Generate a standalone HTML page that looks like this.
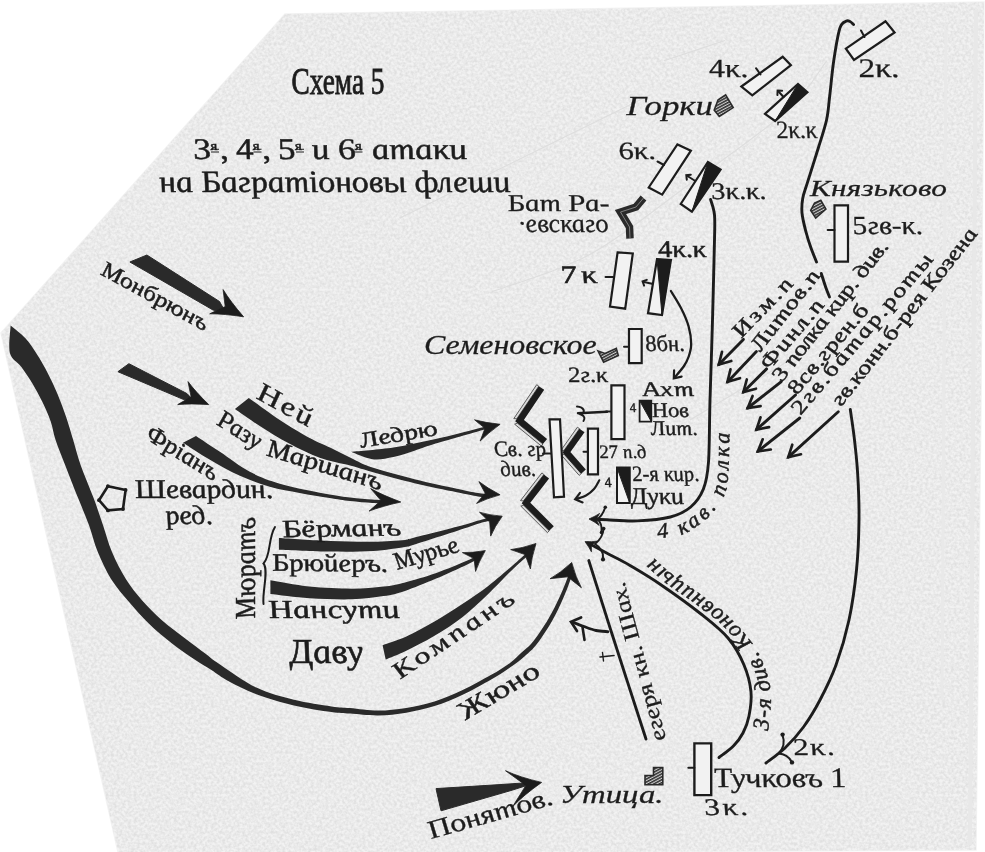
<!DOCTYPE html>
<html lang="ru"><head><meta charset="utf-8"><title>Схема 5</title>
<style>
html,body{margin:0;padding:0;background:#fff;overflow:hidden}
svg{display:block}
text{font-family:"Liberation Serif","DejaVu Serif",serif;fill:#1e1e1e}
</style></head><body>
<svg width="985" height="852" viewBox="0 0 985 852">
<defs>
<filter id="grain" x="0" y="0" width="100%" height="100%" color-interpolation-filters="sRGB">
<feTurbulence type="fractalNoise" baseFrequency="0.35" numOctaves="2" seed="7" result="n"/>
<feColorMatrix type="matrix" values="0 0 0 0 0  0 0 0 0 0  0 0 0 0 0  2 0 0 0 -0.57"/>
<feComposite in2="SourceGraphic" operator="in"/>
</filter>
<pattern id="hatch" width="2.6" height="2.6" patternUnits="userSpaceOnUse" patternTransform="rotate(62)"><rect width="2.6" height="2.6" fill="#cfcfcf"/><rect width="1.5" height="2.6" fill="#2e2e2e"/></pattern>
<filter id="soft" x="-2%" y="-2%" width="104%" height="104%"><feGaussianBlur stdDeviation="0.45"/></filter>
</defs>
<polygon points="285,14 984,2 981,400 976,850 600,852 118,852 1,333" fill="#f2f2f2" stroke="none" stroke-width="0" stroke-linejoin="miter" />
<polygon points="285,14 984,2 981,400 976,850 600,852 118,852 1,333" fill="none" stroke="#f3f3f3" stroke-width="1.5" stroke-linejoin="miter" />
<polygon points="285,14 984,2 981,400 976,850 600,852 118,852 1,333" fill="#000" opacity="0.07" filter="url(#grain)"/>
<g filter="url(#soft)">
<path d="M400,218C441.7,197.5 608.3,115.5 650,95" fill="none" stroke="#dedede" stroke-width="1.2"/>
<path d="M491.7,291.7C503.1,287.8 540.6,276 560,268C579.4,260 587.2,256.9 608,243.5C628.8,230.1 654.9,209.7 684.6,187.7C714.3,165.7 762.3,132.7 786,111.5C809.7,90.3 819.9,69.2 826.7,60.8" fill="none" stroke="#dedede" stroke-width="1.2"/>
<path d="M664,60.8C674.2,57.4 714.8,43.9 725,40.5" fill="none" stroke="#dedede" stroke-width="1.2"/>
<path d="M690,420C706.7,410 773.3,370 790,360" fill="none" stroke="#dedede" stroke-width="1.2"/>
<line x1="946" y1="30" x2="942" y2="700" stroke="#e9e9e9" stroke-width="3"/>
<line x1="976" y1="10" x2="970" y2="845" stroke="#e8e8e8" stroke-width="4"/>
<path d="M10.6,325.6C13.1,327.7 21.1,333.6 25.4,338.3C29.7,343 32.9,347.9 36.6,353.8C40.4,359.7 44.4,366.7 47.9,373.5C51.4,380.3 54.7,387.3 57.7,394.6C60.8,401.9 63.6,409.6 66.2,417.2C68.8,424.8 70.8,432 73.2,440C75.6,448 77.3,455.6 80.7,465.2C84.1,474.8 89.7,487.5 93.4,497.6C97.2,507.7 100.1,516.7 103.2,525.8C106.3,534.9 108.2,543.1 112,552C115.8,560.9 120.9,571.2 126,579.3C131.1,587.4 136.4,593.9 142.4,600.7C148.4,607.6 155.1,614.1 162.2,620.4C169.3,626.7 178.1,632.9 185.2,638.4C192.3,643.9 199.1,648.9 204.9,653.2C210.7,657.6 211.4,658.8 220,664.5C228.6,670.2 244,681.7 256.3,687.6C268.6,693.5 281.4,696.7 293.9,699.8C306.4,702.9 322.1,705 331.5,706.4C340.9,707.8 342.2,707.3 350,708C357.8,708.7 368.8,710.6 378.2,710.6C387.6,710.6 396.9,709.5 406.3,708C415.7,706.5 425.1,704.4 434.5,701.4C443.9,698.4 453.3,694.5 462.7,690.1C472.1,685.7 482.9,679.6 490.8,675.1C498.7,670.6 504.9,666.6 510,662.9C515.1,659.2 517.4,656.4 521.3,652.8C525.2,649.2 528.8,646.9 533.3,641.3C537.8,635.7 543.9,626.5 548.3,619C552.7,611.6 556.5,603.6 559.7,596.8C562.8,590 565.6,582.9 567.3,578.2C569,573.6 569.3,570.3 569.7,568.7L572.7,569.3C572.3,571 572.1,574.5 570.5,579.4C568.9,584.2 566.2,591.4 563.1,598.4C560,605.4 556.3,613.5 551.9,621.2C547.5,628.8 541.4,638.3 536.9,644.1C532.4,650 529.2,652.3 524.7,656.2C520.2,660.1 515.6,663.7 510,667.6C504.4,671.5 498.7,675.3 490.8,679.8C482.9,684.3 472.1,690.4 462.7,694.8C453.3,699.2 443.9,703.1 434.5,706.1C425.1,709.1 415.7,711.1 406.3,712.7C396.9,714.3 387.6,715.4 378.2,715.5C368.8,715.6 357.8,714.2 350,713.6C342.2,713 340.9,713.4 331.5,712C322.1,710.6 306.4,708.4 293.9,705.4C281.4,702.4 267.2,698.3 256.3,694.2C245.4,690.1 235.7,685 228.2,681C220.7,677 216.9,673.5 211.4,670C205.9,666.5 201.6,664.2 195,659.8C188.4,655.4 179.7,649.4 172,643.4C164.3,637.4 156.1,630.6 149,623.7C141.9,616.9 135.6,609.7 129.3,602.3C123,594.9 116.5,587.7 111.2,579.3C106,570.9 101.5,560.9 97.8,552C94.1,543.1 92.5,534.9 89.2,525.8C85.9,516.7 81.9,507.7 77.9,497.6C73.9,487.5 68.9,474.8 65.2,465.2C61.5,455.6 58,447.3 55.6,440C53.2,432.7 52.9,427.8 50.7,421.4C48.5,415 45.3,408 42.3,401.7C39.2,395.4 35.9,389.3 32.4,383.4C28.8,377.5 24.8,371.6 21,366.5C17.2,361.4 11.6,359.8 9.9,353C8.2,346.2 10.5,330.2 10.6,325.6Z" fill="#2a2a2a"/>
<path d="M571.7,562.5 Q575.8,577.7 581.4,587.7 L567.6,576.8 L550.1,578.7 Q560.2,573.2 571.7,562.5 Z" fill="#1e1e1e" stroke="#1e1e1e" stroke-width="0.8" stroke-linejoin="round"/>
<polygon points="146.9,255 129.9,262 213,310 226,313 219.5,301.5" fill="#2a2a2a" stroke="#2a2a2a" stroke-width="1" stroke-linejoin="miter" />
<path d="M243.6,316.8 Q223.7,313.7 209.7,313.8 L225.2,306.6 L223.1,289.6 Q230.4,301.6 243.6,316.8 Z" fill="#1e1e1e" stroke="#1e1e1e" stroke-width="0.8" stroke-linejoin="round"/>
<polygon points="128.9,363.7 117.9,371.7 183.8,399.6 195,402 187,393.6" fill="#2a2a2a" stroke="#2a2a2a" stroke-width="1" stroke-linejoin="miter" />
<path d="M208.7,404.6 Q190.4,403.3 177.7,404.6 L191.1,396.8 L188,381.6 Q195.5,391.8 208.7,404.6 Z" fill="#1e1e1e" stroke="#1e1e1e" stroke-width="0.8" stroke-linejoin="round"/>
<path d="M248.8,398C254,401.6 269.7,413.2 279.8,419.9C289.9,426.5 301.3,433.3 309.7,437.9C318.1,442.5 323.1,444.1 330,447.5C336.9,450.9 343.9,454.6 351,458C358.1,461.4 361.7,464.1 372.3,467.6C382.9,471.1 400.4,475.7 414.5,479.2C428.6,482.7 446.2,486.4 456.8,488.7C467.4,491 472.7,492.1 477.9,493C483.1,493.9 486.3,494 488,494.2L488,497.4C486.3,497.2 483.1,497.3 477.9,496.4C472.7,495.5 467.4,494.4 456.8,492.2C446.2,490 428.6,486.6 414.5,483.2C400.4,479.8 382.9,474.9 372.3,472C361.7,469.1 359.8,468.2 351,465.8C342.2,463.4 329.9,461.5 319.7,457.8C309.5,454.1 299.7,449.1 289.7,443.8C279.7,438.5 268.9,431.7 259.8,425.9C250.7,420.1 239.1,411.7 234.9,408.9Z" fill="#2a2a2a"/>
<path d="M500.1,494.8 Q485.9,498.8 476.6,503.4 L485.2,493.2 L478.9,481.6 Q487,487.9 500.1,494.8 Z" fill="#1e1e1e" stroke="#1e1e1e" stroke-width="0.8" stroke-linejoin="round"/>
<path d="M196,435.9C200,438.5 210.9,445.8 219.9,451.8C228.9,457.8 239.8,466.5 249.8,471.8C259.8,477.1 268.2,480.2 279.8,483.7C291.4,487.2 308,490.4 319.7,492.7C331.4,495 341.2,496.4 350,497.5C358.8,498.6 366,499.1 372.3,499.6C378.6,500.1 385.4,500.4 388,500.6L388,504C385.4,503.8 378.6,503.5 372.3,503C366,502.5 357.1,501.9 350,501C342.9,500.1 338,499.2 329.6,497.9C321.2,496.5 309.7,494.8 299.7,492.9C289.7,491 279.8,489.5 269.8,486.7C259.8,483.9 249.9,480.3 239.9,475.8C229.9,471.3 219.4,465.3 209.9,459.8C200.4,454.3 187.5,445.6 183,442.8Z" fill="#2a2a2a"/>
<path d="M400.8,502 Q381.6,506.3 369.1,511.1 L381,500.6 L370.7,488.6 Q382.4,495.1 400.8,502 Z" fill="#1e1e1e" stroke="#1e1e1e" stroke-width="0.8" stroke-linejoin="round"/>
<path d="M351.1,451.8C358.2,451.1 379.3,449.6 393.4,447.5C407.5,445.4 421.5,442.3 435.6,439.1C449.7,435.9 469.2,430.7 477.9,428.5C486.6,426.3 486.3,426.4 488,426L488,428.8C486.3,429.2 486.6,428.9 477.9,431.4C469.2,433.9 446.2,440.4 435.6,443.6C425,446.8 421.5,448.5 414.5,450.7C407.5,452.9 400.4,455.6 393.4,457C386.4,458.4 379.4,460.1 372.3,459.2C365.2,458.3 354.6,453 351.1,451.8Z" fill="#2a2a2a"/>
<path d="M500.1,424.3 Q487.6,433.3 480.2,441 L485,428.3 L474.5,419.8 Q484.8,422.7 500.1,424.3 Z" fill="#1e1e1e" stroke="#1e1e1e" stroke-width="0.8" stroke-linejoin="round"/>
<path d="M278.9,538C287.5,538.5 314.9,540.4 330.6,541C346.3,541.6 360.5,542 372.9,541.8C385.3,541.6 398.1,540.7 405,540C411.9,539.3 405.9,539.8 414.5,537.6C423.1,535.4 445.5,529.8 456.8,526.8C468.1,523.8 476.2,520.9 482.1,519.4C488,517.9 490.4,517.8 492,517.5L492,520.4C490.4,520.8 488,520.8 482.1,522.6C476.2,524.4 468.1,527.4 456.8,531C445.5,534.6 423.1,541.8 414.5,544.5C405.9,547.2 411.9,545.9 405,547C398.1,548.1 385.3,550.2 372.9,551C360.5,551.8 346.3,551.8 330.6,551.6C314.9,551.4 287.5,550 278.9,549.7Z" fill="#2a2a2a"/>
<path d="M502.2,516.2 Q494.4,527.1 490.7,536.1 L489.7,522 L479.5,512.2 Q488.8,515.2 502.2,516.2 Z" fill="#1e1e1e" stroke="#1e1e1e" stroke-width="0.8" stroke-linejoin="round"/>
<path d="M270.4,580.3C276.9,581.3 295.9,585.2 309.5,586.6C323.1,588 339.5,588.7 351.8,588.7C364.1,588.7 374.6,587.7 383.5,586.6C392.4,585.5 396.3,584.6 405,582.4C413.7,580.2 425.2,576.9 435.6,573.3C446,569.7 460.2,563.6 467.3,560.6C474.4,557.6 476.2,555.9 478,555L479,558.2C477.1,559.2 474.5,561 467.3,564.4C460.1,567.8 446,574.4 435.6,578.8C425.2,583.2 413.7,588 405,590.9C396.3,593.8 392.4,594.7 383.5,596.1C374.6,597.5 364.1,598.9 351.8,599.3C339.5,599.6 323.1,599.1 309.5,598.2C295.9,597.3 276.9,594.7 270.4,594Z" fill="#2a2a2a"/>
<path d="M485.3,550.6 Q478.6,562.3 475.6,571.4 L474,558.5 L462.4,552.6 Q472,552.9 485.3,550.6 Z" fill="#1e1e1e" stroke="#1e1e1e" stroke-width="0.8" stroke-linejoin="round"/>
<path d="M382.6,645.3C386.6,643.8 397.7,640.5 406.3,636.6C414.9,632.7 425.1,627.1 434.5,621.6C443.9,616.1 453.8,609.7 462.7,603.8C471.6,597.9 479.9,592.4 488.2,586C496.5,579.6 506.3,570.9 512.6,565.5C518.9,560.1 523.8,555.5 526,553.5L527.5,556C525,558.2 519.1,563.2 512.6,569.5C506.1,575.8 496.5,586.1 488.2,594C479.9,601.9 471.6,609.9 462.7,616.9C453.8,623.9 443.9,630.1 434.5,635.7C425.1,641.3 414.4,646.7 406.3,650.7C398.2,654.7 389.1,658 385.7,659.5Z" fill="#2a2a2a"/>
<path d="M536,543.5 Q531.4,558.1 530.4,568.9 L525.1,554.6 L510.7,549.6 Q521.5,548.4 536,543.5 Z" fill="#1e1e1e" stroke="#1e1e1e" stroke-width="0.8" stroke-linejoin="round"/>
<polygon points="436,788.6 441,810.8 511,790.5 530,784.5 530,782.5 500,784.6" fill="#2a2a2a" stroke="#2a2a2a" stroke-width="1" stroke-linejoin="miter" />
<path d="M541.6,782.4 Q523.3,795.3 512.5,806.8 L525.9,785.4 L505.5,770.7 Q519.8,777.3 541.6,782.4 Z" fill="#1e1e1e" stroke="#1e1e1e" stroke-width="0.8" stroke-linejoin="round"/>
<polygon points="99,500.2 107.9,486.2 125.6,490 123,509 107.9,510.4" fill="none" stroke="#1e1e1e" stroke-width="2.6" stroke-linejoin="miter" />
<circle cx="99" cy="500.2" r="1.9" fill="#1e1e1e"/>
<circle cx="107.9" cy="486.2" r="1.9" fill="#1e1e1e"/>
<circle cx="125.6" cy="490" r="1.9" fill="#1e1e1e"/>
<circle cx="123" cy="509" r="1.9" fill="#1e1e1e"/>
<circle cx="107.9" cy="510.4" r="1.9" fill="#1e1e1e"/>
<path d="M275,527 C268,538 271,556 263.5,563.5 C269,570 262,592 263.5,604" fill="none" stroke="#1e1e1e" stroke-width="2" stroke-linecap="round"/>
<polygon points="516.8,418.8 538.8,386.2 536.7,384.7 513.8,418.6" fill="#d9d9d9" stroke="#3a3a3a" stroke-width="0.8" stroke-linejoin="miter" />
<polygon points="517.4,423.1 542.9,444 541.3,446 514.6,424.2" fill="#d9d9d9" stroke="#3a3a3a" stroke-width="0.8" stroke-linejoin="miter" />
<polyline points="541.5,388 519.5,420.6 545,441.5" fill="none" stroke="#1e1e1e" stroke-width="6.5" stroke-linejoin="miter" stroke-miterlimit="6"/>
<polygon points="523.4,501 543.9,474.5 541.9,472.9 520.5,500.6" fill="#d9d9d9" stroke="#3a3a3a" stroke-width="0.8" stroke-linejoin="miter" />
<polygon points="523.7,505.3 549.2,530.8 547.4,532.6 520.8,506.1" fill="#d9d9d9" stroke="#3a3a3a" stroke-width="0.8" stroke-linejoin="miter" />
<polyline points="546.5,476.5 526,503 551.5,528.5" fill="none" stroke="#1e1e1e" stroke-width="6.5" stroke-linejoin="miter" stroke-miterlimit="6"/>
<polygon points="564,450.5 579.5,428.7 577.4,427.2 561,450.2" fill="#d9d9d9" stroke="#3a3a3a" stroke-width="0.8" stroke-linejoin="miter" />
<polygon points="564.2,454.3 581.2,473.6 579.2,475.4 561.2,454.9" fill="#d9d9d9" stroke="#3a3a3a" stroke-width="0.8" stroke-linejoin="miter" />
<polyline points="582,430.5 566.5,452.3 583.5,471.6" fill="none" stroke="#1e1e1e" stroke-width="6.2" stroke-linejoin="miter" stroke-miterlimit="6"/>
<polygon points="549.5,419.3 560,419.3 564,496.7 554,497.3" fill="#f2f2f2" stroke="#1e1e1e" stroke-width="2.2" stroke-linejoin="miter" />
<line x1="543" y1="453.6" x2="551" y2="453.6" stroke="#1e1e1e" stroke-width="2" stroke-linecap="round"/>
<polygon points="587.9,428.7 598,428.7 598,474.4 587.9,474.4" fill="#f2f2f2" stroke="#1e1e1e" stroke-width="2.2" stroke-linejoin="miter" />
<line x1="583.5" y1="451.8" x2="588" y2="451.8" stroke="#1e1e1e" stroke-width="2" stroke-linecap="round"/>
<polygon points="611.4,385.3 624.5,385.3 624.5,439.2 611.4,439.2" fill="#f2f2f2" stroke="#1e1e1e" stroke-width="2.2" stroke-linejoin="miter" />
<line x1="606" y1="411.5" x2="611" y2="411.5" stroke="#1e1e1e" stroke-width="2" stroke-linecap="round"/>
<path d="M607,411.7 L578,413.2" fill="none" stroke="#1e1e1e" stroke-width="2.4" stroke-linecap="round"/>
<path d="M577,406.5 C584,407 586,412 581,414.5 C585,416 585,419 583.5,421" fill="none" stroke="#1e1e1e" stroke-width="2" stroke-linecap="round"/>
<polygon points="629,329 641.7,329 641.7,363.2 629,363.2" fill="#f2f2f2" stroke="#1e1e1e" stroke-width="2.2" stroke-linejoin="miter" />
<line x1="624" y1="346.8" x2="629" y2="346.8" stroke="#1e1e1e" stroke-width="2" stroke-linecap="round"/>
<polygon points="617.6,252.3 632.8,253.4 625.2,308.7 610,306.6" fill="#f2f2f2" stroke="#1e1e1e" stroke-width="2.2" stroke-linejoin="miter" />
<line x1="605.5" y1="277" x2="613" y2="277" stroke="#1e1e1e" stroke-width="2" stroke-linecap="round"/>
<polygon points="657,259.2 670.9,260 662,315 648,313.2" fill="#f2f2f2" stroke="#1e1e1e" stroke-width="2.2" stroke-linejoin="miter" />
<polygon points="657,259.2 670.9,260 662,315" fill="#1e1e1e" stroke="#1e1e1e" stroke-width="1" stroke-linejoin="miter" />
<line x1="644" y1="282" x2="652" y2="283.8" stroke="#1e1e1e" stroke-width="2" stroke-linecap="round"/>
<path d="M646.8,279.9 L642.6,281.4 L644.1,285.6" fill="none" stroke="#1e1e1e" stroke-width="2" stroke-linecap="round" stroke-linejoin="miter"/>
<polygon points="648.7,187.5 677.4,144.4 690.9,150.7 662.2,194.6" fill="#f2f2f2" stroke="#1e1e1e" stroke-width="2.2" stroke-linejoin="miter" />
<line x1="657.5" y1="161.5" x2="664" y2="165" stroke="#1e1e1e" stroke-width="2" stroke-linecap="round"/>
<polygon points="680.7,204 707.9,162 720.6,169.7 691.9,211.6" fill="#f2f2f2" stroke="#1e1e1e" stroke-width="2.2" stroke-linejoin="miter" />
<polygon points="707.9,162 720.6,169.7 691.9,211.6" fill="#1e1e1e" stroke="#1e1e1e" stroke-width="1" stroke-linejoin="miter" />
<line x1="687.5" y1="176" x2="694.5" y2="180.5" stroke="#1e1e1e" stroke-width="2" stroke-linecap="round"/>
<path d="M690.8,174.7 L686.3,175.2 L686.8,179.7" fill="none" stroke="#1e1e1e" stroke-width="2" stroke-linecap="round" stroke-linejoin="miter"/>
<polygon points="741.4,86.5 782.7,56.8 790.9,65.2 752.3,95.4" fill="#f2f2f2" stroke="#1e1e1e" stroke-width="2.2" stroke-linejoin="miter" />
<line x1="756" y1="68.2" x2="760.5" y2="74.5" stroke="#1e1e1e" stroke-width="2" stroke-linecap="round"/>
<polygon points="765,113.9 798,84 807.4,92.3 775.1,121" fill="#f2f2f2" stroke="#1e1e1e" stroke-width="2.2" stroke-linejoin="miter" />
<polygon points="798,84 807.4,92.3 775.1,121" fill="#1e1e1e" stroke="#1e1e1e" stroke-width="1" stroke-linejoin="miter" />
<line x1="778.5" y1="91.5" x2="783.5" y2="97" stroke="#1e1e1e" stroke-width="2" stroke-linecap="round"/>
<path d="M782.1,90.8 L777.6,90.6 L777.4,95.1" fill="none" stroke="#1e1e1e" stroke-width="2" stroke-linecap="round" stroke-linejoin="miter"/>
<polygon points="845.9,48.7 885.5,21.3 894.6,32.5 854,59.9" fill="#f2f2f2" stroke="#1e1e1e" stroke-width="2.2" stroke-linejoin="miter" />
<line x1="861" y1="30.5" x2="864.5" y2="37" stroke="#1e1e1e" stroke-width="2" stroke-linecap="round"/>
<polygon points="834.5,205.3 848,205.3 848,261.7 834.5,261.7" fill="#f2f2f2" stroke="#1e1e1e" stroke-width="2.2" stroke-linejoin="miter" />
<line x1="827.6" y1="230" x2="834.5" y2="230" stroke="#1e1e1e" stroke-width="2" stroke-linecap="round"/>
<polygon points="639.6,400.6 651.3,400.6 651.3,421.6 639.6,421.6" fill="#f2f2f2" stroke="#1e1e1e" stroke-width="1.8" stroke-linejoin="miter" />
<polygon points="639.6,400.6 651.3,400.6 651.3,421.6" fill="#1e1e1e" stroke="#1e1e1e" stroke-width="1" stroke-linejoin="miter" />
<polygon points="617,467.6 629.7,467.6 629.7,503 617,503" fill="#f2f2f2" stroke="#1e1e1e" stroke-width="2" stroke-linejoin="miter" />
<polygon points="617,467.6 629.7,467.6 629.7,503" fill="#1e1e1e" stroke="#1e1e1e" stroke-width="1" stroke-linejoin="miter" />
<polygon points="694.4,743.4 711.2,743.4 711.2,795.1 694.4,795.1" fill="#f2f2f2" stroke="#1e1e1e" stroke-width="2.4" stroke-linejoin="miter" />
<line x1="688.3" y1="767.7" x2="694.4" y2="767.7" stroke="#1e1e1e" stroke-width="2" stroke-linecap="round"/>
<text font-size="13" font-style="italic" transform="translate(630.5 411.5) skewX(13)" stroke="#1e1e1e" stroke-width="0.4" >4</text>
<text font-size="14" font-style="italic" transform="translate(605.5 487) skewX(13)" stroke="#1e1e1e" stroke-width="0.4" >4</text>
<polygon points="718,100 725.6,94.9 733.2,107.6 719.3,116.4 714.2,110" fill="url(#hatch)" stroke="#2c2c2c" stroke-width="1.6" stroke-linejoin="miter" />
<polygon points="810.7,210.4 814.5,203 820.8,200.2 825.9,209 815.7,218" fill="url(#hatch)" stroke="#2c2c2c" stroke-width="1.6" stroke-linejoin="miter" />
<polygon points="598,351 605,353.5 616.3,348.4 618.3,355.6 603.6,362.2" fill="url(#hatch)" stroke="#2c2c2c" stroke-width="1.6" stroke-linejoin="miter" />
<polygon points="645,775.5 653.5,775.5 653.5,767.5 662.8,767.5 662.8,784.8 645,784.8" fill="url(#hatch)" stroke="#2c2c2c" stroke-width="1.6" stroke-linejoin="miter" />
<path d="M643.5,198 L636,207 L620.5,212 L629.5,227 L630,238.5" fill="none" stroke="#2a2a2a" stroke-width="7.5" stroke-linejoin="miter"/>
<path d="M643.5,198 L636,207 L620.5,212 L629.5,227 L630,238.5" fill="none" stroke="#8a8a8a" stroke-width="0.9" stroke-linejoin="miter"/>
<path d="M710.6,199.5C711.2,202.1 713.9,208.2 714.5,215C715.1,221.8 714.8,222.5 714.5,240C714.2,257.5 713.2,293.3 712.5,320C711.8,346.7 710.7,376.3 710,400C709.3,423.7 709.6,447.2 708.5,462C707.4,476.8 706.4,481.5 703.4,489C700.4,496.5 696.2,502.3 690.7,507C685.2,511.7 679.3,514.7 670.4,517C661.5,519.3 648,520.4 637.4,520.9C626.8,521.4 614.2,520.1 607,519.8C599.8,519.5 596.2,519.4 594,519.3" fill="none" stroke="#1e1e1e" stroke-width="2.9" stroke-linecap="round" stroke-linejoin="round" />
<path d="M589,519 Q595.5,516.2 599.6,513.4 L596.2,519.3 L599.2,525.4 Q595.3,522.2 589,519 Z" fill="#1e1e1e" stroke="#1e1e1e" stroke-width="0.8" stroke-linejoin="round"/>
<path d="M605,508 C603,514 601,517 597,519 C601,522 602,527 601.5,532" fill="none" stroke="#1e1e1e" stroke-width="2" stroke-linecap="round"/>
<circle cx="605.3" cy="507.3" r="1.8" fill="#1e1e1e"/><circle cx="601.5" cy="532.5" r="1.8" fill="#1e1e1e"/>
<path d="M853.5,24.5C852.9,24 851.2,22 850,21.5C848.8,21 847.7,20.2 846,21.3C844.3,22.4 841.8,21.8 839.8,28.4C837.8,35 835.4,49.7 833.7,61C832,72.3 830.9,86.2 829.7,96C828.5,105.8 828.5,111.1 826.6,119.8C824.7,128.5 821.5,137.6 818.3,148C815.1,158.4 810.1,174.1 807.5,182.4C804.9,190.7 803.7,192.9 802.8,198C801.9,203.1 801.5,207.3 802,213C802.5,218.7 804.5,226.2 806,232C807.5,237.8 809.2,243 811,248C812.8,253 815.6,259.7 816.5,262" fill="none" stroke="#1e1e1e" stroke-width="2.9" stroke-linecap="round" stroke-linejoin="round" />
<path d="M821.3,273.5C822.1,275.9 824.6,284.1 826,288C827.4,291.9 828.9,295.5 829.5,297" fill="none" stroke="#1e1e1e" stroke-width="2.9" stroke-linecap="round" stroke-linejoin="round" />
<path d="M850.3,409.5C851,414.6 853.3,429.2 854.5,440C855.7,450.8 857,461.2 857.7,474.5C858.5,487.8 859.2,504.1 859,520C858.8,535.9 858.2,553.3 856.5,570C854.8,586.7 852.4,604.2 849,620C845.6,635.8 840.8,651.7 836,665C831.2,678.3 825.4,689.7 820,700C814.6,710.3 809.3,719 803.5,727C797.7,735 791.2,742 785,748C778.8,754 769.2,760.5 766,763" fill="none" stroke="#1e1e1e" stroke-width="2.9" stroke-linecap="round" stroke-linejoin="round" />
<path d="M782.5,735 C785,742 784,748 778.5,753.5 C784,754 789,757 791.5,761.5" fill="none" stroke="#1e1e1e" stroke-width="2" stroke-linecap="round"/>
<circle cx="782.6" cy="734.6" r="2.2" fill="#1e1e1e"/><circle cx="792" cy="762.4" r="2.2" fill="#1e1e1e"/>
<path d="M670.9,291C672.6,293.8 678,302.1 681,308C684,313.9 686.9,320.4 688.6,326.4C690.3,332.4 691.2,339.1 691.2,344.2C691.2,349.3 689.7,353.4 688.5,357C687.3,360.6 686.2,362.7 684,366C681.8,369.3 676.5,375.2 675,377" fill="none" stroke="#1e1e1e" stroke-width="2.3" stroke-linecap="round" stroke-linejoin="round" />
<path d="M674.1,370.3 L673.8,378.3 L681.6,376.6" fill="none" stroke="#1e1e1e" stroke-width="2.2" stroke-linecap="round" stroke-linejoin="miter"/>
<path d="M599.3,480.3C598.4,481.8 596.2,486.5 594,489C591.8,491.5 588.8,493.9 586,495.5C583.2,497.1 578.5,498.2 577,498.8" fill="none" stroke="#1e1e1e" stroke-width="2.2" stroke-linecap="round" stroke-linejoin="round" />
<path d="M580,492.9 L575.2,499.3 L582.6,502.4" fill="none" stroke="#1e1e1e" stroke-width="2.2" stroke-linecap="round" stroke-linejoin="miter"/>
<path d="M588,543C591.1,544.7 599.6,549.2 606.6,553C613.6,556.8 621,560.2 630,565.5C639,570.8 648.7,576.4 660.5,584.5C672.3,592.6 689.8,605.1 701,614C712.2,622.9 720.8,629.5 728,638C735.2,646.5 740.2,656 744,665C747.8,674 750.2,683.5 751,692C751.8,700.5 750.3,709.2 749,716C747.7,722.8 745.6,728 743,733C740.4,738 737.4,741.9 733.4,746C729.4,750.1 721.4,755.6 719,757.5" fill="none" stroke="#1e1e1e" stroke-width="2.9" stroke-linecap="round" stroke-linejoin="round" />
<path d="M585,541.6 Q592.1,542 597,541.2 L591.4,545 L591.4,551.8 Q589.2,547.3 585,541.6 Z" fill="#1e1e1e" stroke="#1e1e1e" stroke-width="0.8" stroke-linejoin="round"/>
<path d="M603.5,529 C603,536 600,540 595,544 C600,547 603.5,552 603,558" fill="none" stroke="#1e1e1e" stroke-width="2" stroke-linecap="round"/>
<circle cx="603.6" cy="528.6" r="1.9" fill="#1e1e1e"/><circle cx="603" cy="559.4" r="2.1" fill="#1e1e1e"/>
<path d="M588.8,560.6C592.6,572.7 602.2,603.3 611.7,633C621.2,662.7 640.3,721.3 646,739" fill="none" stroke="#1e1e1e" stroke-width="2.9" stroke-linecap="round" stroke-linejoin="round" />
<path d="M607.9,631.7C605.9,631.5 600,631.4 596,630.5C592,629.6 587.8,627.9 584,626.5C580.2,625.1 574.8,623 573,622.3" fill="none" stroke="#1e1e1e" stroke-width="2.9" stroke-linecap="round" stroke-linejoin="round" />
<path d="M581.1,617.5 L571,621.8 L577,631" fill="none" stroke="#1e1e1e" stroke-width="2.7" stroke-linecap="round" stroke-linejoin="miter"/>
<line x1="582.5" y1="627" x2="584.5" y2="640" stroke="#1e1e1e" stroke-width="2.6" stroke-linecap="round"/>
<line x1="600" y1="657" x2="614" y2="655.5" stroke="#1e1e1e" stroke-width="1.6" stroke-linecap="round"/>
<line x1="602.5" y1="652.5" x2="603.5" y2="661" stroke="#1e1e1e" stroke-width="1.4" stroke-linecap="round"/>
<line x1="743.4" y1="339.4" x2="718.8" y2="364.5" stroke="#1e1e1e" stroke-width="2.9" stroke-linecap="round"/>
<path d="M722,351.9 L718.8,364.5 L731.3,361" fill="none" stroke="#1e1e1e" stroke-width="2.7" stroke-linecap="round" stroke-linejoin="miter"/>
<line x1="756.4" y1="351.5" x2="727.5" y2="381.9" stroke="#1e1e1e" stroke-width="2.9" stroke-linecap="round"/>
<path d="M730.5,369.3 L727.5,381.9 L740,378.2" fill="none" stroke="#1e1e1e" stroke-width="2.7" stroke-linecap="round" stroke-linejoin="miter"/>
<line x1="766.6" y1="368.9" x2="743.4" y2="392" stroke="#1e1e1e" stroke-width="2.9" stroke-linecap="round"/>
<path d="M746.8,379.5 L743.4,392 L756,388.7" fill="none" stroke="#1e1e1e" stroke-width="2.7" stroke-linecap="round" stroke-linejoin="miter"/>
<line x1="781" y1="381.9" x2="747.7" y2="408" stroke="#1e1e1e" stroke-width="2.9" stroke-linecap="round"/>
<path d="M752.6,395.9 L747.7,408 L760.6,406.2" fill="none" stroke="#1e1e1e" stroke-width="2.7" stroke-linecap="round" stroke-linejoin="miter"/>
<line x1="795.5" y1="395" x2="756.4" y2="429.7" stroke="#1e1e1e" stroke-width="2.9" stroke-linecap="round"/>
<path d="M760.5,417.4 L756.4,429.7 L769.1,427.1" fill="none" stroke="#1e1e1e" stroke-width="2.7" stroke-linecap="round" stroke-linejoin="miter"/>
<line x1="799.8" y1="418" x2="757.9" y2="451.4" stroke="#1e1e1e" stroke-width="2.9" stroke-linecap="round"/>
<path d="M762.7,439.3 L757.9,451.4 L770.8,449.5" fill="none" stroke="#1e1e1e" stroke-width="2.7" stroke-linecap="round" stroke-linejoin="miter"/>
<line x1="838.3" y1="411.7" x2="788.3" y2="457.1" stroke="#1e1e1e" stroke-width="2.9" stroke-linecap="round"/>
<path d="M792.3,444.7 L788.3,457.1 L801,454.3" fill="none" stroke="#1e1e1e" stroke-width="2.7" stroke-linecap="round" stroke-linejoin="miter"/>
<text font-size="38" textLength="93" lengthAdjust="spacingAndGlyphs" transform="translate(291.5 94.3)" stroke="#1e1e1e" stroke-width="0.9" >Схема 5</text>
<text font-size="30" font-style="italic" textLength="273" lengthAdjust="spacingAndGlyphs" transform="translate(195.5 159) skewX(13)" stroke="#1e1e1e" stroke-width="0.5" >3<tspan dy="-9" font-size="13">я</tspan><tspan dy="9">, 4</tspan><tspan dy="-9" font-size="13">я</tspan><tspan dy="9">, 5</tspan><tspan dy="-9" font-size="13">я</tspan><tspan dy="9"> и 6</tspan><tspan dy="-9" font-size="13">я</tspan><tspan dy="9"> атаки</tspan></text>
<path d="M211,149.2 h8 M211,152 h8" stroke="#1e1e1e" stroke-width="1.1" fill="none"/>
<path d="M253.5,149.2 h8 M253.5,152 h8" stroke="#1e1e1e" stroke-width="1.1" fill="none"/>
<path d="M296,149.2 h8 M296,152 h8" stroke="#1e1e1e" stroke-width="1.1" fill="none"/>
<path d="M354.5,149.2 h8 M354.5,152 h8" stroke="#1e1e1e" stroke-width="1.1" fill="none"/>
<text font-size="31" font-style="italic" textLength="351" lengthAdjust="spacingAndGlyphs" transform="translate(161 192) skewX(13)" stroke="#1e1e1e" stroke-width="0.5" >на Багратiоновы флеши</text>
<text font-size="22" font-style="italic" textLength="119" lengthAdjust="spacingAndGlyphs" transform="translate(100.5 274.5) rotate(28.6) skewX(13)" stroke="#1e1e1e" stroke-width="0.5" >Монбрюнъ</text>
<text font-size="26" font-style="italic" textLength="46.7" lengthAdjust="spacing" transform="translate(256.5 398.5) rotate(29.1) scale(1.3 1) skewX(13)" stroke="#1e1e1e" stroke-width="0.4" >Ней</text>
<text font-size="25" font-style="italic" textLength="48.5" lengthAdjust="spacingAndGlyphs" transform="translate(216.5 424.5) rotate(32.4) skewX(13)" stroke="#1e1e1e" stroke-width="0.5" >Разу</text>
<text font-size="25" font-style="italic" textLength="119.7" lengthAdjust="spacingAndGlyphs" transform="translate(266.5 455.5) rotate(17) skewX(13)" stroke="#1e1e1e" stroke-width="0.5" >Маршанъ</text>
<text font-size="24" font-style="italic" textLength="81.1" lengthAdjust="spacingAndGlyphs" transform="translate(145.4 438.5) rotate(32.2) skewX(13)" stroke="#1e1e1e" stroke-width="0.5" >Фрiанъ</text>
<text font-size="27" font-style="italic" textLength="138" lengthAdjust="spacingAndGlyphs" transform="translate(136.5 498.2) skewX(13)" stroke="#1e1e1e" stroke-width="0.5" >Шевардин.</text>
<text font-size="27" font-style="italic" textLength="47" lengthAdjust="spacingAndGlyphs" transform="translate(167 523.6) skewX(13)" stroke="#1e1e1e" stroke-width="0.5" >ред.</text>
<text font-size="29" font-style="italic" textLength="101.3" lengthAdjust="spacingAndGlyphs" transform="translate(254.5 617.3) rotate(-90) skewX(13)" stroke="#1e1e1e" stroke-width="0.5" >Мюратъ</text>
<text font-size="25" font-style="italic" textLength="91" lengthAdjust="spacing" transform="translate(284.2 537.2) rotate(-0.8) scale(1.3 1) skewX(13)" stroke="#1e1e1e" stroke-width="0.5" >Бёрманъ</text>
<text font-size="25" font-style="italic" textLength="115.4" lengthAdjust="spacingAndGlyphs" transform="translate(273.6 570.8) rotate(0.5) skewX(13)" stroke="#1e1e1e" stroke-width="0.5" >Брюйеръ.</text>
<text font-size="25" font-style="italic" textLength="66.1" lengthAdjust="spacingAndGlyphs" transform="translate(398 569.5) rotate(-16.2) skewX(13)" stroke="#1e1e1e" stroke-width="0.5" >Мурье</text>
<text font-size="26" font-style="italic" textLength="100.8" lengthAdjust="spacing" transform="translate(270.4 617.9) scale(1.3 1) skewX(13)" stroke="#1e1e1e" stroke-width="0.5" >Нансути</text>
<text font-size="35" font-style="italic" textLength="74" lengthAdjust="spacingAndGlyphs" transform="translate(291.6 663.2) skewX(13)" stroke="#1e1e1e" stroke-width="0.6" >Даву</text>
<text font-size="24" font-style="italic" textLength="107.3" lengthAdjust="spacing" transform="translate(401 679) rotate(-33.7) scale(1.3 1) skewX(13)" stroke="#1e1e1e" stroke-width="0.4" >Компанъ</text>
<text font-size="26" font-style="italic" textLength="68.8" lengthAdjust="spacing" transform="translate(466 720) rotate(-30.6) scale(1.3 1) skewX(13)" stroke="#1e1e1e" stroke-width="0.5" >Жюно</text>
<text font-size="22" font-style="italic" textLength="78.6" lengthAdjust="spacingAndGlyphs" transform="translate(362 447.8) rotate(-9.7) skewX(13)" stroke="#1e1e1e" stroke-width="0.5" >Ледрю</text>
<text font-size="26" font-style="italic" textLength="128.2" lengthAdjust="spacingAndGlyphs" transform="translate(432 838.8) rotate(-15.8) skewX(13)" stroke="#1e1e1e" stroke-width="0.3" >Понятов.</text>
<text font-size="26" font-style="italic" textLength="103.5" lengthAdjust="spacingAndGlyphs" transform="translate(560 802.9)" stroke="#1e1e1e" stroke-width="0.3" >Утица.</text>
<text font-size="28" font-style="italic" textLength="132.5" lengthAdjust="spacingAndGlyphs" transform="translate(715.7 787.2) skewX(13)" stroke="#1e1e1e" stroke-width="0.3" >Тучковъ 1</text>
<text font-size="24" font-style="italic" textLength="31.5" lengthAdjust="spacing" transform="translate(795 755.2) scale(1.3 1) skewX(13)" stroke="#1e1e1e" stroke-width="0.3" >2к.</text>
<text font-size="24" font-style="italic" textLength="32.8" lengthAdjust="spacing" transform="translate(706.6 815) scale(1.3 1) skewX(13)" stroke="#1e1e1e" stroke-width="0.3" >3к.</text>
<text font-size="22" font-style="italic" textLength="163.5" lengthAdjust="spacingAndGlyphs" transform="translate(666 738) rotate(-104.9) skewX(13)" stroke="#1e1e1e" stroke-width="0.3" >егеря кн. Шах.</text>
<path id="tp1" d="M768,731C768.5,725.3 771.4,707.2 771,697C770.6,686.8 768.9,679 765.7,670C762.5,661 758.3,652 752,643C745.7,634 736.5,624 728,616C719.5,608 710,601.5 701,594.8C692,588.1 682.1,582.2 674,575.9C665.9,569.6 656,560.1 652.4,557" fill="none" stroke="none"/>
<text font-size="23" font-style="italic" stroke="#1e1e1e" stroke-width="0.5" textLength="236" lengthAdjust="spacing"><textPath href="#tp1">3-я див. Коновницынъ</textPath></text>
<path id="tp2" d="M658,538.5C661.8,537.9 674.7,536.8 680.7,535C686.7,533.2 689.5,530.9 694,528C698.5,525.1 703.8,521.5 708,517.5C712.2,513.5 716,508.6 719,504C722,499.4 724.4,495.7 726,490C727.6,484.3 727.9,480.7 728.5,470C729.1,459.3 729.3,433.3 729.5,426" fill="none" stroke="none"/>
<text font-size="22" font-style="italic" stroke="#1e1e1e" stroke-width="0.5" textLength="146" lengthAdjust="spacing"><textPath href="#tp2">4 кав. полка</textPath></text>
<text font-size="22" font-style="italic" textLength="52" lengthAdjust="spacingAndGlyphs" transform="translate(495.2 455.6) skewX(13)" stroke="#1e1e1e" stroke-width="0.4" >Св. гр</text>
<text font-size="22" font-style="italic" textLength="35.4" lengthAdjust="spacingAndGlyphs" transform="translate(501.6 476) skewX(13)" stroke="#1e1e1e" stroke-width="0.4" >див.</text>
<text font-size="19" font-style="italic" textLength="47" lengthAdjust="spacingAndGlyphs" transform="translate(600.6 458.2) skewX(13)" stroke="#1e1e1e" stroke-width="0.4" >27 п.д</text>
<text font-size="22" font-style="italic" textLength="67" lengthAdjust="spacingAndGlyphs" transform="translate(633.5 481) skewX(13)" stroke="#1e1e1e" stroke-width="0.4" >2-я кир.</text>
<text font-size="24" font-style="italic" textLength="53" lengthAdjust="spacingAndGlyphs" transform="translate(632.3 503.5) skewX(13)" stroke="#1e1e1e" stroke-width="0.4" >Дуки</text>
<text font-size="21" font-style="italic" textLength="39.2" lengthAdjust="spacing" transform="translate(644.2 396.2) scale(1.3 1) skewX(13)" stroke="#1e1e1e" stroke-width="0.4" >Ахт</text>
<text font-size="21" font-style="italic" textLength="37" lengthAdjust="spacingAndGlyphs" transform="translate(653 416.5) skewX(13)" stroke="#1e1e1e" stroke-width="0.4" >Нов</text>
<text font-size="21" font-style="italic" textLength="47" lengthAdjust="spacingAndGlyphs" transform="translate(651.8 435) skewX(13)" stroke="#1e1e1e" stroke-width="0.4" >Лит.</text>
<text font-size="23" font-style="italic" textLength="39" lengthAdjust="spacingAndGlyphs" transform="translate(646.8 351.3) skewX(13)" stroke="#1e1e1e" stroke-width="0.4" >8бн.</text>
<text font-size="22" font-style="italic" textLength="39.4" lengthAdjust="spacingAndGlyphs" transform="translate(569.3 382.3) skewX(13)" stroke="#1e1e1e" stroke-width="0.4" >2г.к</text>
<text font-size="27" font-style="italic" textLength="172.7" lengthAdjust="spacingAndGlyphs" transform="translate(424 353.8)" stroke="#1e1e1e" stroke-width="0.3" >Семеновское</text>
<text font-size="25" font-style="italic" textLength="27.3" lengthAdjust="spacing" transform="translate(563 283.3) scale(1.3 1) skewX(13)" stroke="#1e1e1e" stroke-width="0.5" >7к</text>
<text font-size="24" font-style="italic" textLength="48" lengthAdjust="spacingAndGlyphs" transform="translate(659.4 256.6) skewX(13)" stroke="#1e1e1e" stroke-width="0.5" >4к.к</text>
<text font-size="24" font-style="italic" textLength="101.7" lengthAdjust="spacingAndGlyphs" transform="translate(509 211) skewX(13)" stroke="#1e1e1e" stroke-width="0.3" >Бат Ра-</text>
<text font-size="26" font-style="italic" textLength="89.5" lengthAdjust="spacingAndGlyphs" transform="translate(520.5 232) skewX(13)" stroke="#1e1e1e" stroke-width="0.3" >·евскаго</text>
<text font-size="25" font-style="italic" textLength="36.7" lengthAdjust="spacingAndGlyphs" transform="translate(620.3 159) skewX(13)" stroke="#1e1e1e" stroke-width="0.3" >6к.</text>
<text font-size="24" font-style="italic" textLength="54.5" lengthAdjust="spacingAndGlyphs" transform="translate(713 199) skewX(13)" stroke="#1e1e1e" stroke-width="0.3" >3к.к.</text>
<text font-size="27" font-style="italic" textLength="86.4" lengthAdjust="spacingAndGlyphs" transform="translate(626.6 115)" stroke="#1e1e1e" stroke-width="0.3" >Горки</text>
<text font-size="26" font-style="italic" textLength="39" lengthAdjust="spacingAndGlyphs" transform="translate(710.4 77) skewX(13)" stroke="#1e1e1e" stroke-width="0.3" >4к.</text>
<text font-size="25" font-style="italic" textLength="40.6" lengthAdjust="spacingAndGlyphs" transform="translate(777.7 138) skewX(13)" stroke="#1e1e1e" stroke-width="0.3" >2к.к</text>
<text font-size="27" font-style="italic" textLength="40.7" lengthAdjust="spacingAndGlyphs" transform="translate(860 77.2) skewX(13)" stroke="#1e1e1e" stroke-width="0.3" >2к.</text>
<text font-size="24" font-style="italic" textLength="105.4" lengthAdjust="spacing" transform="translate(809.9 195.7) scale(1.3 1)" stroke="#1e1e1e" stroke-width="0.3" >Князьково</text>
<text font-size="26" font-style="italic" textLength="69.7" lengthAdjust="spacingAndGlyphs" transform="translate(854.3 234.3) skewX(13)" stroke="#1e1e1e" stroke-width="0.3" >5гв-к.</text>
<text font-size="21" font-style="italic" textLength="61.9" lengthAdjust="spacing" transform="translate(742 338) rotate(-45.6) scale(1.22 1) skewX(13)" stroke="#1e1e1e" stroke-width="0.5" >Изм.п</text>
<text font-size="21" font-style="italic" textLength="80.3" lengthAdjust="spacing" transform="translate(760.9 351.8) rotate(-51.6) scale(1.22 1) skewX(13)" stroke="#1e1e1e" stroke-width="0.5" >Литов.п</text>
<text font-size="21" font-style="italic" textLength="70.1" lengthAdjust="spacing" transform="translate(769.9 369.7) rotate(-49.3) scale(1.22 1) skewX(13)" stroke="#1e1e1e" stroke-width="0.5" >Финл.п</text>
<text font-size="21" font-style="italic" textLength="141.7" lengthAdjust="spacing" transform="translate(782.8 381.7) rotate(-51.7) scale(1.22 1) skewX(13)" stroke="#1e1e1e" stroke-width="0.5" >3 полка кир. див.</text>
<text font-size="21" font-style="italic" textLength="91.8" lengthAdjust="spacing" transform="translate(797.8 394.7) rotate(-49.4) scale(1.22 1) skewX(13)" stroke="#1e1e1e" stroke-width="0.5" >8св.грен.б</text>
<text font-size="21" font-style="italic" textLength="168.1" lengthAdjust="spacing" transform="translate(801.3 415) rotate(-49.5) scale(1.22 1) skewX(13)" stroke="#1e1e1e" stroke-width="0.5" >2гв.батар.роты</text>
<text font-size="21" font-style="italic" textLength="181.3" lengthAdjust="spacing" transform="translate(841.8 406.5) rotate(-51.7) scale(1.22 1) skewX(13)" stroke="#1e1e1e" stroke-width="0.5" >гв.конн.б-рея Козена</text>
</g>
</svg></body></html>
